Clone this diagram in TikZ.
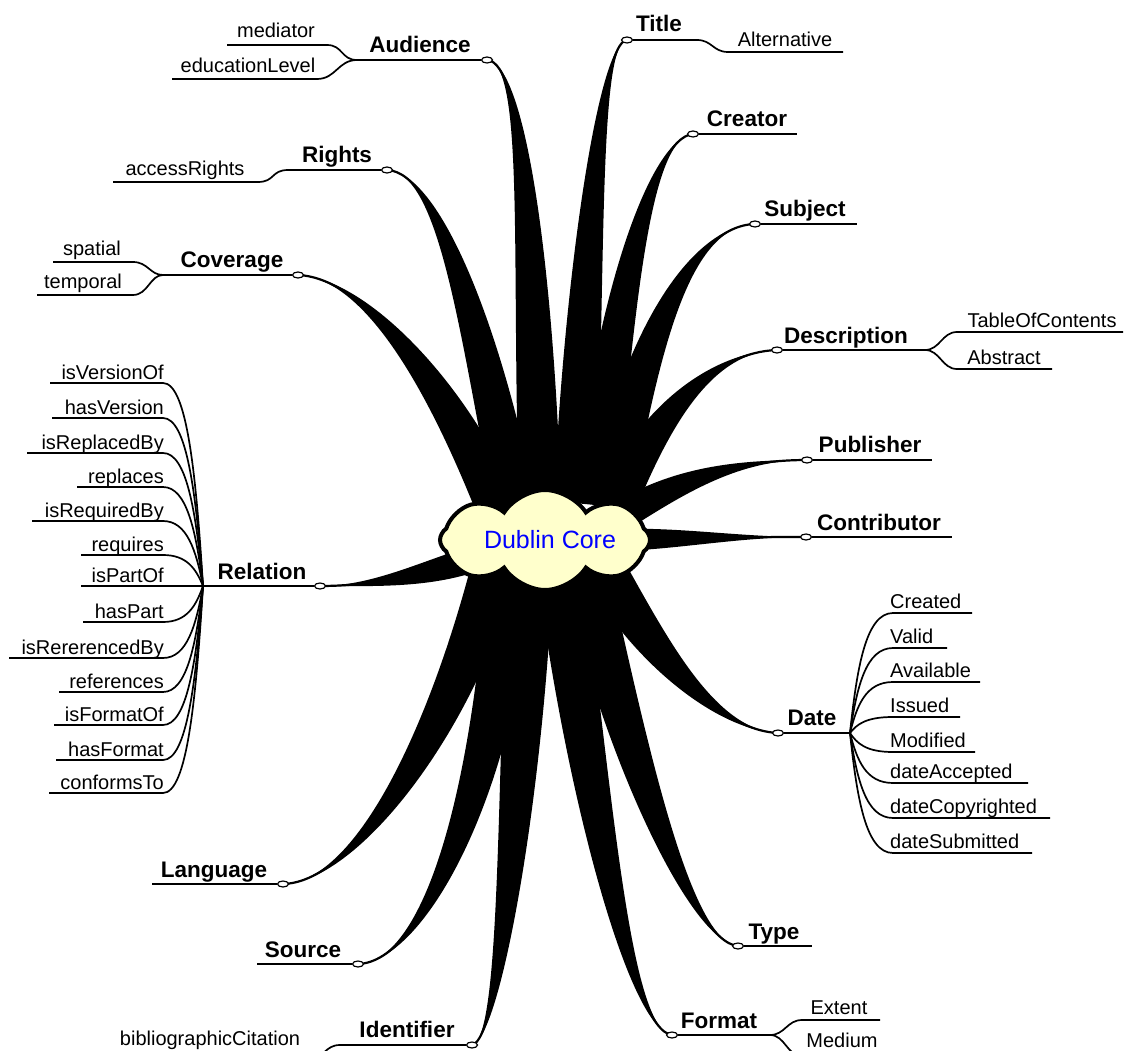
\documentclass[tikz,border=0pt]{standalone}
\usepackage{fontspec}
\setmainfont{Liberation Sans}
\usetikzlibrary{calc,shapes.symbols,shapes.geometric}
\definecolor{cloudfill}{HTML}{FFFFCC}
\newcommand\taper[5]{%
  \coordinate (tpA) at ($(#4)!#5!90:(#3)$);
  \coordinate (tpB) at ($(#4)!#5!-90:(#3)$);
  \fill (#1) .. controls (#2) and ($(#3)+(tpA)-(#4)$) .. (tpA) -- (tpB)
        .. controls ($(#3)+(tpB)-(#4)$) and (#2) .. (#1);
  \draw[line width=2.2pt] (#1) .. controls (#2) and (#3) .. (#4);
}
\begin{document}
\begin{tikzpicture}[x=1pt,y=-1pt,
  main/.style={font=\fontsize{22.5}{24}\selectfont\bfseries, inner sep=0pt, anchor=base},
  sub/.style={font=\fontsize{20}{22}\selectfont, inner sep=0pt, anchor=base},
  uline/.style={line width=2pt},
  twig/.style={line width=1.7pt},
  knob/.style={draw, line width=1.2pt, fill=white, ellipse, minimum width=11pt, minimum height=6pt, inner sep=0pt}]
\useasboundingbox (0,0) rectangle (1125,1051);
\clip (0,0) rectangle (1125,1051);
\fill[white] (0,0) rectangle (1125,1051);

% knob centres
\coordinate (audK) at (487,60);
\coordinate (rigK) at (387,170);
\coordinate (covK) at (298,275);
\coordinate (relK) at (320,586);
\coordinate (langK) at (283,884);
\coordinate (srcK) at (358,964);
\coordinate (idK) at (472,1045);
\coordinate (fmtK) at (672,1035);
\coordinate (typK) at (738,946);
\coordinate (datK) at (778,733);
\coordinate (conK) at (806,537);
\coordinate (pubK) at (807,460);
\coordinate (desK) at (777,350);
\coordinate (sbjK) at (755,224);
\coordinate (creK) at (693,134);
\coordinate (titK) at (627,40);

% tapered main branches
\taper{audK}{525,62}{532,260}{540,500}{21pt}
\taper{titK}{598,42}{585,280}{575,500}{21pt}
\taper{creK}{650,138}{615,300}{595,505}{21pt}
\taper{sbjK}{690,226}{640,340}{610,505}{21pt}
\taper{desK}{715,352}{655,410}{615,510}{19pt}
\taper{pubK}{740,460}{680,478}{615,520}{15pt}
\taper{conK}{740,537}{680,538}{620,540}{11pt}
\taper{datK}{715,730}{650,650}{605,570}{21pt}
\taper{typK}{690,942}{625,750}{585,570}{23pt}
\taper{fmtK}{630,1030}{590,800}{560,570}{23pt}
\taper{idK}{500,1040}{520,800}{530,570}{23pt}
\taper{srcK}{425,962}{495,790}{510,570}{23pt}
\taper{langK}{360,882}{455,720}{495,565}{23pt}
\taper{relK}{370,586}{420,576}{470,560}{13pt}
\taper{covK}{370,278}{455,400}{500,515}{21pt}
\taper{rigK}{440,172}{480,330}{515,505}{21pt}

% central cloud
\node[cloud, cloud puffs=8, cloud puff arc=115, cloud ignores aspect,
      minimum width=210pt, minimum height=100pt, draw, line width=4pt,
      fill=cloudfill] (core) at (545,540) {};
\node[font=\fontsize{25}{27}\selectfont, text=blue, inner sep=0pt] (coretext) at (550,540) {Dublin Core};

% knobs
\foreach \k in {aud,rig,cov,rel,lang,src,id,fmt,typ,dat,con,pub,des,sbj,cre,tit}
  {\node[knob] (\k Kn) at (\k K) {};}

% junction / end coordinates
\coordinate (audJ) at (357,60);
\coordinate (rigJ) at (288,170);
\coordinate (covJ) at (163,275);
\coordinate (relJ) at (203,586);
\coordinate (langL) at (152,884);
\coordinate (srcL) at (257,964);
\coordinate (idJ) at (340,1045);
\coordinate (fmtJ) at (770,1035);
\coordinate (typR) at (812,946);
\coordinate (datJ) at (850,733);
\coordinate (conR) at (952,537);
\coordinate (pubR) at (932,460);
\coordinate (desJ) at (925,350);
\coordinate (sbjR) at (857,224);
\coordinate (creR) at (797,134);
\coordinate (titJ) at (697,40);

% main underlines
\draw[uline] (audJ) -- (audKn);
\draw[uline] (rigJ) -- (rigKn);
\draw[uline] (covJ) -- (covKn);
\draw[uline] (relJ) -- (relKn);
\draw[uline] (langL) -- (langKn);
\draw[uline] (srcL) -- (srcKn);
\draw[uline] (idJ) -- (idKn);
\draw[uline] (fmtKn) -- (fmtJ);
\draw[uline] (typKn) -- (typR);
\draw[uline] (datKn) -- (datJ);
\draw[uline] (conKn) -- (conR);
\draw[uline] (pubKn) -- (pubR);
\draw[uline] (desKn) -- (desJ);
\draw[uline] (sbjKn) -- (sbjR);
\draw[uline] (creKn) -- (creR);
\draw[uline] (titKn) -- (titJ);

% main labels
\node[main] (aud) at (420,53) {Audience};
\node[main] (rig) at (337,163) {Rights};
\node[main] (cov) at (232,268) {Coverage};
\node[main] (rel) at (262,579) {Relation};
\node[main] (lang) at (214,877) {Language};
\node[main] (src) at (303,957) {Source};
\node[main] (idf) at (407,1037) {Identifier};
\node[main] (fmt) at (719,1028) {Format};
\node[main] (typ) at (774,939) {Type};
\node[main] (dat) at (812,725) {Date};
\node[main] (con) at (879,530) {Contributor};
\node[main] (pub) at (870,452) {Publisher};
\node[main] (des) at (846,343) {Description};
\node[main] (sbj) at (805,217) {Subject};
\node[main] (cre) at (747,127) {Creator};
\node[main] (tit) at (659,32) {Title};

% Audience children
\coordinate (medL) at (227,45); \coordinate (medR) at (327,45);
\coordinate (eduL) at (172,79); \coordinate (eduR) at (317,79);
\draw[twig] (medL) -- (medR) .. controls (343,45) and (341,60) .. (audJ);
\draw[twig] (eduL) -- (eduR) .. controls (336,79) and (338,60) .. (audJ);
\node[sub] (med) at (276,38) {mediator};
\node[sub] (edu) at (248,73) {educationLevel};

% Rights child
\coordinate (accL) at (113,182); \coordinate (accR) at (258,182);
\draw[twig] (accL) -- (accR) .. controls (275,182) and (271,170) .. (rigJ);
\node[sub] (acc) at (185,176) {accessRights};

% Coverage children
\coordinate (spaL) at (53,262); \coordinate (spaR) at (133,262);
\coordinate (temL) at (37,295); \coordinate (temR) at (133,295);
\draw[twig] (spaL) -- (spaR) .. controls (148,262) and (150,275) .. (covJ);
\draw[twig] (temL) -- (temR) .. controls (148,295) and (150,275) .. (covJ);
\node[sub] (spa) at (92,256) {spatial};
\node[sub] (tem) at (83,289) {temporal};

% Title child
\coordinate (altL) at (728,52); \coordinate (altR) at (843,52);
\draw[twig] (titJ) .. controls (712,40) and (713,52) .. (altL) -- (altR);
\node[sub] (alt) at (785,47) {Alternative};

% Description children
\coordinate (tocL) at (957,332); \coordinate (tocR) at (1123,332);
\coordinate (absL) at (957,369); \coordinate (absR) at (1052,369);
\draw[twig] (desJ) .. controls (940,350) and (942,332) .. (tocL) -- (tocR);
\draw[twig] (desJ) .. controls (940,350) and (942,369) .. (absL) -- (absR);
\node[sub] (toc) at (1042,327) {TableOfContents};
\node[sub] (abs) at (1004,364) {Abstract};

% Format children
\coordinate (extL) at (802,1020); \coordinate (extR) at (880,1020);
\coordinate (medmL) at (802,1056); \coordinate (medmR) at (884,1056);
\draw[twig] (fmtJ) .. controls (785,1035) and (787,1020) .. (extL) -- (extR);
\draw[twig] (fmtJ) .. controls (785,1035) and (787,1056) .. (medmL) -- (medmR);
\node[sub] (ext) at (839,1014) {Extent};
\node[sub] (medm) at (842,1047) {Medium};

% Identifier child
\coordinate (bibR) at (310,1058); \coordinate (bibL) at (110,1058);
\draw[twig] (idJ) .. controls (325,1045) and (325,1058) .. (bibR) -- (bibL);
\node[sub] (bib) at (210,1045) {bibliographicCitation};

% Relation children
\foreach \nm/\lx/\yy [count=\i] in {isVersionOf/50/383, hasVersion/52/418,
    isReplacedBy/27/453, replaces/77/487, isRequiredBy/32/521, requires/81/555,
    isPartOf/81/586, hasPart/83/622, isRererencedBy/9/658, references/59/692,
    isFormatOf/54/725, hasFormat/56/760, conformsTo/49/793}{
  \coordinate (rl\i) at (\lx,\yy);
  \coordinate (rr\i) at (163,\yy);
  \draw[twig] (rl\i) -- (rr\i) .. controls (187,\yy) and ({196},{\yy+0.45*(586-\yy)}) .. (relJ);
  \node[sub, anchor=base east] (rs\i) at ({164},{\yy-4}) {\nm};
}

% Date children
\foreach \nm/\rx/\yy [count=\i] in {Created/972/613, Valid/947/648,
    Available/980/682, Issued/960/717, Modified/975/752, dateAccepted/1028/783,
    dateCopyrighted/1050/818, dateSubmitted/1032/853}{
  \coordinate (dl\i) at (893,\yy);
  \coordinate (dr\i) at (\rx,\yy);
  \draw[twig] (datJ) .. controls ({857},{\yy+0.45*(733-\yy)}) and (866,\yy) .. (dl\i) -- (dr\i);
  \node[sub, anchor=base west] (ds\i) at ({890},{\yy-5}) {\nm};
}
\end{tikzpicture}
\end{document}
